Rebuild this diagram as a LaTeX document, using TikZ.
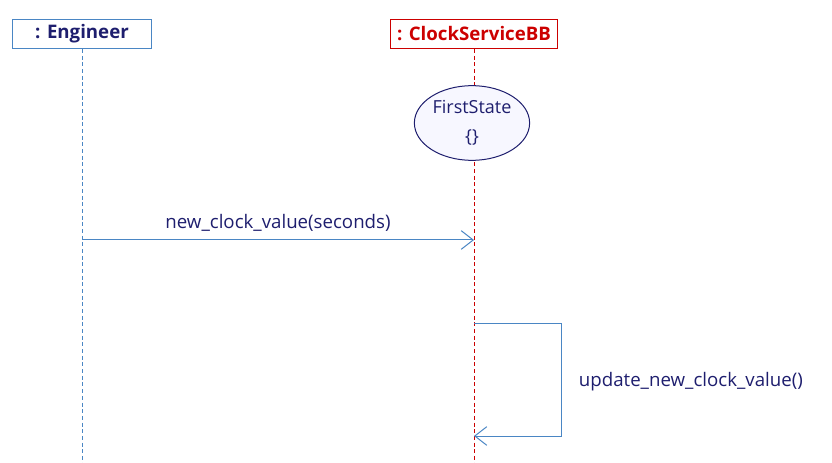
\documentclass[tikz,border=0pt]{standalone}
\usepackage{fontspec}
\setmainfont{Open Sans}
\usetikzlibrary{arrows.meta,shapes.geometric}
\definecolor{lifeblue}{RGB}{74,134,196}
\definecolor{lifered}{RGB}{204,0,0}
\definecolor{navy}{RGB}{30,30,110}
\tikzset{every picture/.style={line width=0.75pt}}
\tikzset{
  actorbox/.style={draw,minimum width=104pt,minimum height=22pt,inner sep=0pt,font=\bfseries\fontsize{14}{16}\selectfont},
  lifeline/.style={densely dashed},
  msg/.style={draw=lifeblue,-{Straight Barb[length=9pt,width=14pt]}},
  msglabel/.style={text=navy,font=\fontsize{14}{16}\selectfont}
}
\begin{document}
\begin{tikzpicture}[x=0.75pt,y=0.75pt,yscale=-1,xscale=1]
\useasboundingbox (0,0) rectangle (832,463);

% Actors
\node [actorbox,draw=lifeblue,text=navy] (eng) at (82,34) {: Engineer};
\node [actorbox,draw=lifered,text=lifered,minimum width=125pt] (clk) at (474,34) {: ClockServiceBB};

% Lifelines
\coordinate (engEnd) at (82,463);
\coordinate (clkEnd) at (474,463);
\draw [lifeline,color=lifeblue] (eng.south) -- (engEnd);
\draw [lifeline,color=lifered] (clk.south) -- (clkEnd);

% State
\node [ellipse,draw=navy,fill=blue!3,minimum width=82pt,minimum height=56pt,inner sep=1pt,align=center,text=navy,font=\fontsize{13.5}{22}\selectfont] (first) at (472,123) {FirstState\\\{\}};

% Messages
\coordinate (m1s) at (82,240);
\coordinate (m1e) at (474,240);
\draw [msg] (m1s) -- node [msglabel,above=3pt] {new\_clock\_value(seconds)} (m1e);

\coordinate (m2s) at (474,324);
\coordinate (m2a) at (561,324);
\coordinate (m2b) at (561,436);
\coordinate (m2e) at (474,436);
\draw [msg] (m2s) -- (m2a) -- (m2b) -- (m2e);
\node [msglabel,anchor=west] (m2lab) at (574,382) {update\_new\_clock\_value()};

\end{tikzpicture}
\end{document}
